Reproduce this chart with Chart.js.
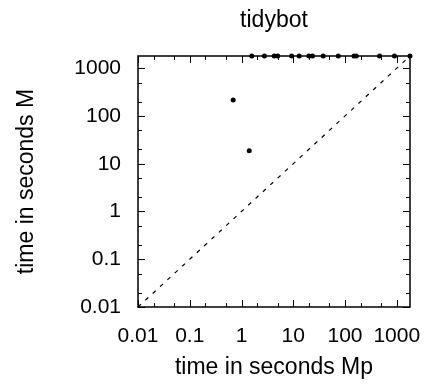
<!DOCTYPE html>
<html>
<head>
<meta charset="utf-8">
<script src="https://cdn.jsdelivr.net/npm/chart.js@4/dist/chart.umd.min.js"></script>
<style>
  html, body { margin: 0; padding: 0; background: #fff; }
  #wrap { width: 433px; height: 390px; }
</style>
</head>
<body>
<div id="wrap"><canvas id="c" width="433" height="390"></canvas></div>
<script>
// ===== DATA =====
// runtimes of Mp (x) vs M (y); 1800 = timeout
const timeMp = [0.69, 1.41, 1.58, 2.77, 4.3, 5.0, 9.3, 13, 20, 23.5, 37.8, 74, 149, 165, 465, 903, 1800];
const timeM  = [216, 18.7, 1800, 1800, 1800, 1800, 1800, 1800, 1800, 1800, 1800, 1800, 1800, 1800, 1800, 1800, 1800];
const diagonal = [0.01, 1800];

const majorTicks = [0.01, 0.1, 1, 10, 100, 1000];
const majorLabels = ['0.01', '0.1', '1', '10', '100', '1000'];
const minorTicks = [0.02, 0.05, 0.2, 0.5, 2, 5, 20, 50, 200, 500];
const chartTitle = 'tidybot';

const FAMILY = "'Liberation Sans', Arial, Helvetica, sans-serif";
const TICK_FONT = { family: FAMILY, size: 21 };
const TITLE_FONT = { family: FAMILY, size: 23 };

function buildTicks(scale) {
  scale.ticks = majorTicks.concat(minorTicks).map(v => ({ value: v, major: majorTicks.includes(v) }));
}
function tickLabel(value) {
  const i = majorTicks.findIndex(v => Math.abs(v - value) < v * 1e-6);
  return i >= 0 ? majorLabels[i] : '';
}

// frame, inward ticks on all four sides (gnuplot style), title centred over the plot
const framePlugin = {
  id: 'frame',
  afterDatasetsDraw(chart) {
    const { ctx, chartArea: a, scales } = chart;
    ctx.save();
    ctx.strokeStyle = '#000';
    ctx.lineWidth = 1;
    const px = v => Math.round(scales.x.getPixelForValue(v)) + 0.5;
    const py = v => Math.round(scales.y.getPixelForValue(v)) + 0.5;
    ctx.beginPath();
    majorTicks.concat(minorTicks).forEach(v => {
      const len = majorTicks.includes(v) ? 7 : 4;
      const x = px(v), y = py(v);
      ctx.moveTo(x, a.bottom); ctx.lineTo(x, a.bottom - len);
      ctx.moveTo(x, a.top); ctx.lineTo(x, a.top + len);
      ctx.moveTo(a.left, y); ctx.lineTo(a.left + len, y);
      ctx.moveTo(a.right, y); ctx.lineTo(a.right - len, y);
    });
    ctx.stroke();
    ctx.lineWidth = 1.5;
    ctx.strokeRect(a.left, a.top, a.right - a.left, a.bottom - a.top);

    ctx.fillStyle = '#000';
    ctx.font = `${TITLE_FONT.size}px ${FAMILY}`;
    ctx.textAlign = 'center';
    ctx.textBaseline = 'alphabetic';
    ctx.fillText(chartTitle, (a.left + a.right) / 2, 27);
    ctx.restore();
  },
};

new Chart(document.getElementById('c'), {
  data: {
    datasets: [
      {
        type: 'line',
        data: diagonal.map(v => ({ x: v, y: v })),
        borderColor: '#000',
        borderWidth: 1.2,
        borderDash: [4, 6],
        pointRadius: 0,
      },
      {
        type: 'scatter',
        data: timeMp.map((v, i) => ({ x: v, y: timeM[i] })),
        backgroundColor: '#000',
        borderColor: '#000',
        pointRadius: 2.5,
        borderWidth: 0,
        clip: false,
      },
    ],
  },
  plugins: [framePlugin],
  options: {
    responsive: false,
    animation: false,
    layout: { padding: { left: 0, right: 23, top: 56, bottom: 0 } },
    plugins: {
      legend: { display: false },
      tooltip: { enabled: false },
    },
    scales: {
      x: {
        type: 'logarithmic',
        position: 'bottom',
        min: 0.01,
        max: 1800,
        afterBuildTicks: buildTicks,
        afterFit: s => { s.height = 83; },
        grid: { display: false },
        border: { display: false },
        ticks: { color: '#000', font: TICK_FONT, autoSkip: false, maxRotation: 0, padding: 9, callback: tickLabel },
        title: { display: true, text: 'time in seconds Mp', color: '#000', font: TITLE_FONT, padding: { top: 0, bottom: 9 } },
      },
      y: {
        type: 'logarithmic',
        position: 'left',
        min: 0.01,
        max: 1800,
        afterBuildTicks: buildTicks,
        afterFit: s => { s.width = 138; },
        grid: { display: false },
        border: { display: false },
        ticks: { color: '#000', font: TICK_FONT, autoSkip: false, padding: 9, callback: tickLabel },
        title: { display: true, text: 'time in seconds M', color: '#000', font: TITLE_FONT, padding: { top: 13, bottom: 0 } },
      },
    },
  },
});
</script>
</body>
</html>
